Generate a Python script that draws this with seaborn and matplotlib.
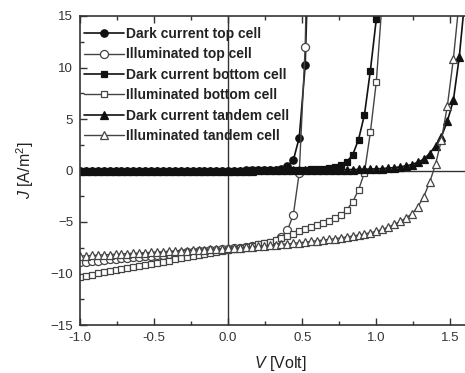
import matplotlib
matplotlib.use("Agg")
import matplotlib.pyplot as plt
from matplotlib.ticker import MultipleLocator
import seaborn as sns
import pandas as pd

# Voltage grid (V), step 0.04 V
V = [-1.00, -0.96, -0.92, -0.88, -0.84, -0.80, -0.76, -0.72, -0.68, -0.64,
     -0.60, -0.56, -0.52, -0.48, -0.44, -0.40, -0.36, -0.32, -0.28, -0.24,
     -0.20, -0.16, -0.12, -0.08, -0.04, 0.00, 0.04, 0.08, 0.12, 0.16,
     0.20, 0.24, 0.28, 0.32, 0.36, 0.40, 0.44, 0.48, 0.52, 0.56,
     0.60, 0.64, 0.68, 0.72, 0.76, 0.80, 0.84, 0.88, 0.92, 0.96,
     1.00, 1.04, 1.08, 1.12, 1.16, 1.20, 1.24, 1.28, 1.32, 1.36,
     1.40, 1.44, 1.48, 1.52, 1.56, 1.60]

dark_top = [-0.05, -0.05, -0.05, -0.05, -0.05, -0.05, -0.05, -0.05, -0.05, -0.05,
            -0.04, -0.04, -0.04, -0.04, -0.04, -0.04, -0.04, -0.04, -0.04, -0.04,
            -0.03, -0.03, -0.03, -0.02, -0.01,
            0.00, 0.00, 0.00, 0.01, 0.01, 0.02, 0.03, 0.05, 0.09, 0.18,
            0.40, 1.00, 3.20, 10.20, 30.0]

illum_top = [-8.90, -8.85, -8.80, -8.75, -8.69, -8.64, -8.59, -8.54, -8.48, -8.43,
             -8.38, -8.33, -8.28, -8.22, -8.17, -8.12, -8.07, -8.02, -7.96, -7.91,
             -7.86, -7.81, -7.75, -7.70, -7.65, -7.60,
             -7.55, -7.49, -7.43, -7.36, -7.28, -7.18, -7.05, -6.85, -6.45, -5.80,
             -4.30, -0.20, 12.00, 40.0]

dark_bottom = [-0.05, -0.05, -0.05, -0.05, -0.05, -0.05, -0.05, -0.05, -0.05, -0.05,
               -0.04, -0.04, -0.04, -0.04, -0.04, -0.04, -0.04, -0.04, -0.04, -0.04,
               -0.03, -0.03, -0.03, -0.02, -0.01,
               0.00, 0.00, 0.00, 0.00, 0.01, 0.01, 0.01, 0.02, 0.02, 0.03,
               0.04, 0.05, 0.06, 0.08, 0.10, 0.12,
               0.15, 0.22, 0.35, 0.52, 0.85, 1.50, 3.00, 5.40, 9.70, 14.70, 30.0]

illum_bottom = [-10.30, -10.20, -10.10, -9.99, -9.89, -9.78, -9.68, -9.58, -9.47, -9.37,
                -9.26, -9.16, -9.05, -8.95, -8.85, -8.74, -8.64, -8.53, -8.43, -8.32,
                -8.22, -8.12, -8.01, -7.91, -7.80, -7.70,
                -7.60, -7.50, -7.40, -7.29, -7.17, -7.04, -6.90, -6.74, -6.56, -6.36,
                -6.12, -5.88, -5.66, -5.46, -5.28, -5.10, -4.90, -4.65, -4.35, -3.85,
                -3.05, -1.90, -0.20, 3.70, 8.60, 16.50]

dark_tandem = [-0.05, -0.05, -0.05, -0.05, -0.05, -0.05, -0.05, -0.05, -0.05, -0.05,
               -0.04, -0.04, -0.04, -0.04, -0.04, -0.04, -0.04, -0.04, -0.04, -0.04,
               -0.03, -0.03, -0.03, -0.02, -0.01,
               0.00, 0.00, 0.00, 0.00, 0.00, 0.01, 0.01, 0.01, 0.01, 0.02,
               0.02, 0.02, 0.03, 0.03, 0.04, 0.04, 0.05, 0.05, 0.06, 0.07,
               0.08, 0.09, 0.10, 0.12, 0.14, 0.16,
               0.19, 0.23, 0.28, 0.35, 0.45, 0.58, 0.80, 1.10, 1.65, 2.40,
               3.30, 4.80, 6.80, 11.00, 17.00]

illum_tandem = [-8.30, -8.28, -8.25, -8.22, -8.19, -8.16, -8.13, -8.10, -8.07, -8.04,
                -8.01, -7.98, -7.95, -7.92, -7.89, -7.86, -7.83, -7.80, -7.77, -7.74,
                -7.71, -7.68, -7.65, -7.62, -7.60, -7.57,
                -7.53, -7.49, -7.45, -7.41, -7.37, -7.33, -7.28, -7.23, -7.18, -7.13,
                -7.07, -7.01, -6.95, -6.89, -6.82, -6.76, -6.69, -6.62, -6.54, -6.46,
                -6.37, -6.27, -6.16, -6.04, -5.90, -5.72, -5.50, -5.24, -4.95, -4.62,
                -4.20, -3.55, -2.55, -1.15, 0.60, 3.00, 6.30, 10.80, 16.50, 25.0]

labels = ["Dark current top cell", "Illuminated top cell",
          "Dark current bottom cell", "Illuminated bottom cell",
          "Dark current tandem cell", "Illuminated tandem cell"]
series = [dark_top, illum_top, dark_bottom, illum_bottom, dark_tandem, illum_tandem]

x_ticks = [-1.0, -0.5, 0.0, 0.5, 1.0, 1.5]
x_ticklabels = ["-1.0", "-0.5", "0.0", "0.5", "1.0", "1.5"]
y_ticks = [-15, -10, -5, 0, 5, 10, 15]

frames = []
for lab, vals in zip(labels, series):
    frames.append(pd.DataFrame({"V": V[:len(vals)], "J": vals, "series": lab}))
df = pd.concat(frames, ignore_index=True)

sns.set_style("ticks")
plt.rcParams["font.family"] = ["Liberation Sans", "DejaVu Sans"]
plt.rcParams["mathtext.fontset"] = "custom"
plt.rcParams["mathtext.rm"] = "Liberation Sans"
plt.rcParams["mathtext.it"] = "Liberation Sans:italic"

fig = plt.figure(figsize=(4.65, 3.73), dpi=100)
ax = fig.add_axes([80 / 465, 48 / 373, 400 / 465, 309 / 373])

styles = {
    "Dark current top cell": dict(marker="o", ms=5.3, mfc="#111111", mec="#111111", color="#111111", lw=1.2),
    "Illuminated top cell": dict(marker="o", ms=5.8, mfc="white", mec="#444444", color="#444444", lw=1.0),
    "Dark current bottom cell": dict(marker="s", ms=4.8, mfc="#111111", mec="#111111", color="#111111", lw=1.2),
    "Illuminated bottom cell": dict(marker="s", ms=5.0, mfc="white", mec="#444444", color="#444444", lw=1.0),
    "Dark current tandem cell": dict(marker="^", ms=6.2, mfc="#111111", mec="#111111", color="#111111", lw=1.2),
    "Illuminated tandem cell": dict(marker="^", ms=6.2, mfc="white", mec="#444444", color="#444444", lw=1.0),
}

ax.axvline(0, color="#333333", lw=1.0, zorder=1)
ax.axhline(0, color="#333333", lw=1.0, zorder=1)

for lab in labels:
    st = styles[lab]
    sub = df[df["series"] == lab]
    sns.lineplot(data=sub, x="V", y="J", ax=ax, sort=False, estimator=None,
                 label=lab, color=st["color"], lw=st["lw"], marker=st["marker"],
                 markersize=st["ms"], markerfacecolor=st["mfc"],
                 markeredgecolor=st["mec"], markeredgewidth=0.9)

ax.set_xlim(-1.0, 1.7)
ax.set_ylim(-15, 15)
ax.set_xticks(x_ticks)
ax.set_xticklabels(x_ticklabels)
ax.set_yticks(y_ticks)
ax.xaxis.set_minor_locator(MultipleLocator(0.25))
ax.yaxis.set_minor_locator(MultipleLocator(2.5))
ax.tick_params(which="both", direction="in", top=True, right=True,
               color="#333333", labelsize=9.5, labelcolor="#333333", width=1.0)
ax.tick_params(which="major", length=5, pad=5)
ax.tick_params(which="minor", length=3)
for sp in ax.spines.values():
    sp.set_linewidth(1.2)
    sp.set_color("#333333")

ax.set_xlabel(r"$V$ [Volt]", fontsize=11.5, color="#222222")
ax.set_ylabel(r"$J$ [A/m$^2$]", fontsize=11.5, color="#222222")
ax.xaxis.set_label_coords(0.5, -0.095)
ax.yaxis.set_label_coords(-0.11, 0.5)

leg = ax.legend(loc="upper left", bbox_to_anchor=(84 / 465, 1 - 27 / 373),
                bbox_transform=fig.transFigure, frameon=False, borderpad=0,
                borderaxespad=0, handlelength=2.9, handletextpad=0.15,
                labelspacing=0.46, prop={"size": 10, "weight": "bold"})
for t in leg.get_texts():
    t.set_color("#222222")

fig.savefig("out.png", dpi=100)
